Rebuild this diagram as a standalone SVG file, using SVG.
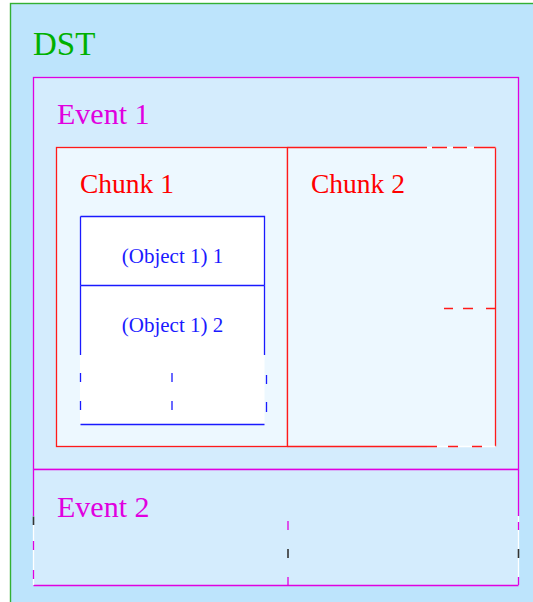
<svg xmlns="http://www.w3.org/2000/svg" width="533" height="602" viewBox="0 0 533 602">
<style>
text{font-family:"Liberation Serif","Times New Roman",serif}
.mag{stroke:#e000e0;stroke-width:1.3;fill:none}
.red{stroke:#ff1a1a;stroke-width:1.3;fill:none}
.blue{stroke:#1a1aff;stroke-width:1.3;fill:none}
.wht{stroke:#ffffff;stroke-width:1.3;fill:none}
.drk{stroke:#333333;stroke-width:1.6;fill:none}
</style>
<rect x="0" y="0" width="533" height="602" fill="#ffffff"/>
<g id="dst">
<rect x="10.5" y="3.5" width="530" height="605" fill="#bde4fc" stroke="#33b033" stroke-width="1.4"/>
<text x="33" y="55" font-size="33" fill="#00b000">DST</text>
</g>
<g id="event1">
<rect x="33.5" y="77.5" width="485" height="392" fill="#d4ecfd" class="mag" style="fill:#d4ecfd"/>
<text x="57" y="124" font-size="30" fill="#e000e0">Event 1</text>
</g>
<g id="event2">
<rect x="33.5" y="469.5" width="485" height="116" fill="#d4ecfd"/>
<path class="mag" d="M33.5,469.5H518.5M33.5,585.5H518.5M33.5,469.5V516M518.5,469.5V516"/>
<path class="wht" d="M33.5,525V585M518.5,516V577"/>
<path class="drk" d="M33.5,516.5V525M288,549V558M518.5,549V558"/>
<path class="mag" d="M33.5,541V550M33.5,570V579M288,521V530M288,577V586M518.5,522V530M518.5,577V585"/>
<text x="57" y="517" font-size="30" fill="#e000e0">Event 2</text>
</g>
<g id="chunk1">
<rect x="56.5" y="147.5" width="231" height="299" fill="#edf8ff" class="red" style="fill:#edf8ff"/>
<text x="80" y="193" font-size="27.5" fill="#ff0000">Chunk 1</text>
</g>
<g id="chunk2">
<rect x="288" y="148" width="207" height="298" fill="#edf8ff"/>
<path class="red" d="M287.5,147.5H427M287.5,446.5H427M495.5,147.5V446.5M287.5,147.5V446.5"/>
<path class="wht" d="M427,147.5H495.5M427,446.5H495.5"/>
<path class="red" d="M432,147.5H447M453,147.5H467M474,147.5H495.5M444,308.5H453M463,308.5H473M486,308.5H495.5M427,446.5H437M448,446.5H458M472,446.5H482"/>
<text x="311" y="193" font-size="27.5" fill="#ff0000">Chunk 2</text>
</g>
<g id="object1-1">
<rect x="80" y="216" width="184.5" height="208" fill="#ffffff"/>
<path class="blue" d="M80.5,216.5H264.5V285.5M80.5,216.5V285.5"/>
<text x="172.5" y="263" font-size="21" fill="#1a1aff" text-anchor="middle">(Object 1) 1</text>
</g>
<g id="object1-2">
<path class="blue" d="M80.5,285.5H264.5M80.5,285.5V355M264.5,285.5V355M80.5,424.5H264.5"/>
<path class="blue" d="M80.5,373V382M80.5,401V410M172,373V382M172,401V410M266.5,375V384M266.5,402V412"/>
<text x="172.5" y="332" font-size="21" fill="#1a1aff" text-anchor="middle">(Object 1) 2</text>
</g>
</svg>
